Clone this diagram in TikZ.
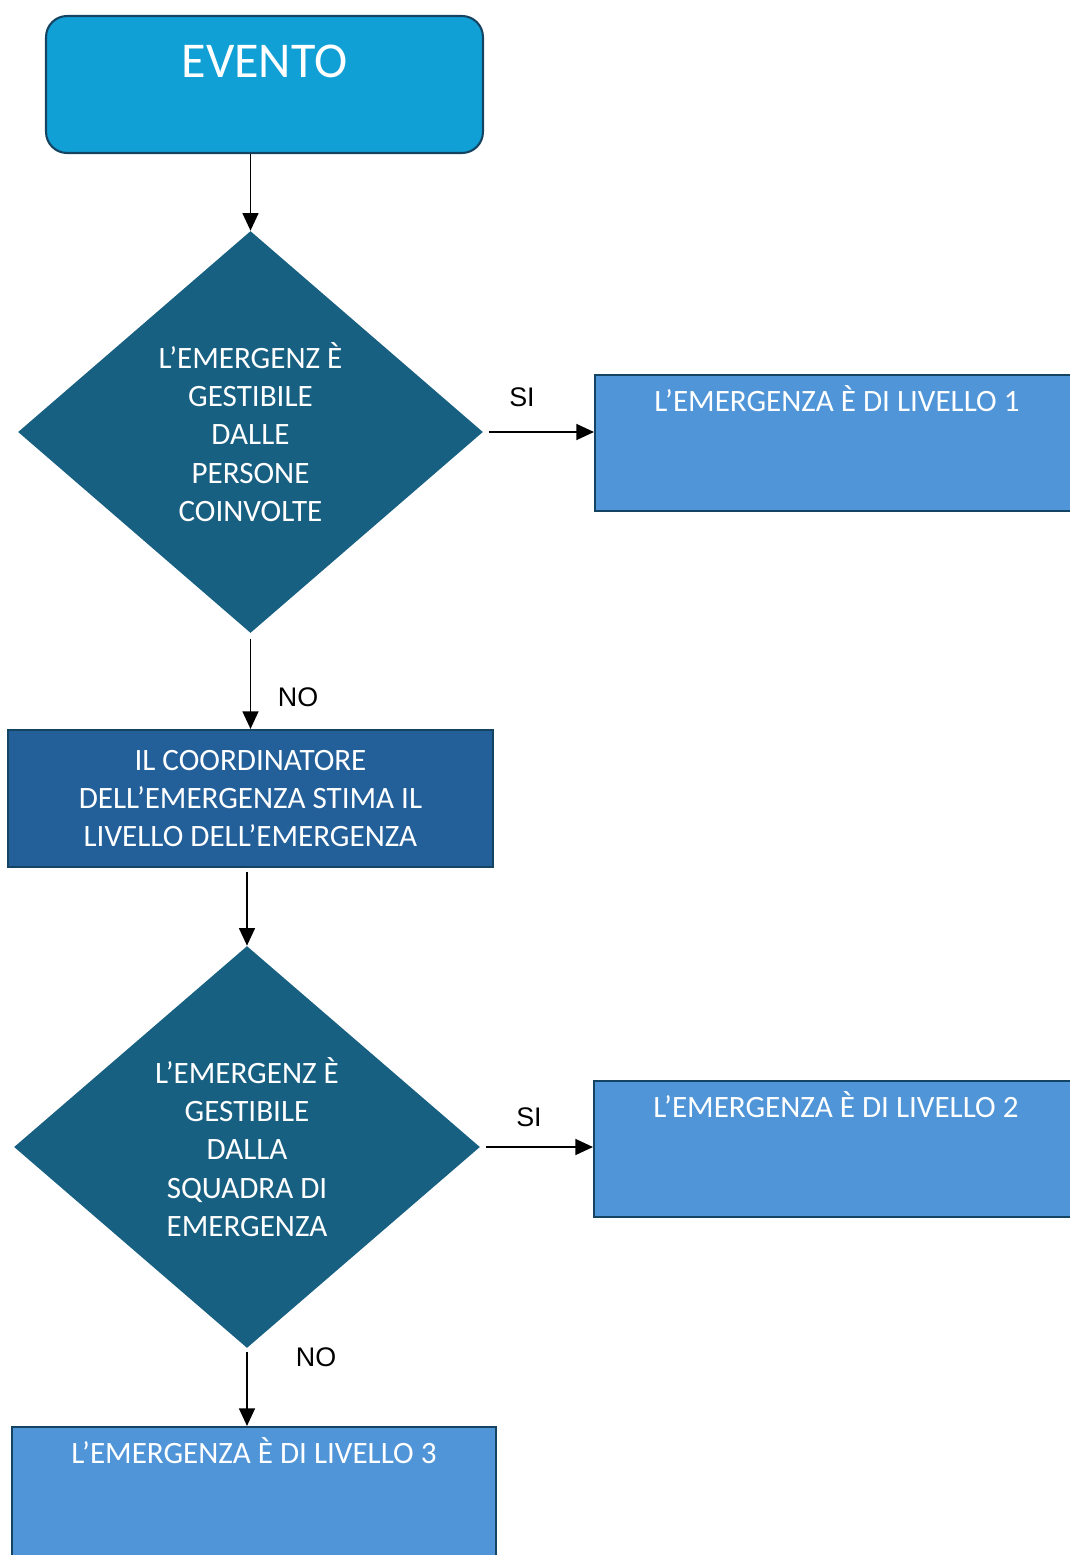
\documentclass[tikz,border=0pt]{standalone}
\usepackage{fontspec}
\setmainfont{Carlito}
\newfontfamily\lblfont{Liberation Sans}
\usetikzlibrary{shapes.geometric,
                calc, %for border points
                arrows.meta, % for triangle tips
                positioning}

\definecolor{eventoblu}{RGB}{17,160,214}
\definecolor{rombo}{RGB}{24,96,130}
\definecolor{coordblu}{RGB}{35,96,154}
\definecolor{livello}{RGB}{80,149,216}
\definecolor{bordo}{RGB}{21,68,98}

\begin{document}
\begin{tikzpicture}[x=0.02cm, y=-0.02cm,
                    Evento/.style={draw=bordo, line width=1.2pt, fill=eventoblu, rounded corners=0.42cm,
                                   minimum width=8.74cm, minimum height=2.74cm},
                    Domanda/.style={diamond, fill=rombo, inner sep=0pt, text=white, align=center,
                                    minimum width=9.3cm, minimum height=8.04cm,
                                    font=\fontsize{17.7}{21.8}\selectfont},
                    Stima/.style={draw=bordo, line width=1.2pt, fill=coordblu, text=white, align=center,
                                  minimum width=9.7cm, minimum height=2.74cm,
                                  font=\fontsize{17.7}{21.6}\selectfont},
                    Livello/.style={draw=bordo, line width=1.2pt, fill=livello,
                                    minimum width=9.68cm, minimum height=2.72cm},
                    Titolo/.style={text=white, anchor=base, inner sep=0pt, font=\fontsize{17.7}{21}\selectfont},
                    Risposta/.style={font=\lblfont\fontsize{15.3}{18}\selectfont, inner sep=0pt},
                    flow/.style={-{Triangle[length=10pt,width=9pt]}, line width=1.1pt}
                    ]
    \useasboundingbox (0,0) rectangle (1069,1555);

    % START %
    \node[Evento, label={[Titolo, font=\fontsize{28.5}{34}\selectfont, yshift=-1.26cm]north:EVENTO}]
        at (264.5,84.5) (evento){};

    % FIRST QUESTION %
    \node[Domanda] at (250.5,432) (d1)
        {L’EMERGENZ È\\GESTIBILE\\DALLE\\PERSONE\\COINVOLTE};
    \node[Livello, label={[Titolo, yshift=-0.76cm]north:L’EMERGENZA È DI LIVELLO 1}]
        at (837,443) (l1){};
    \node[Stima] at (250.5,798.5) (coord)
        {IL COORDINATORE\\DELL’EMERGENZA STIMA IL\\LIVELLO DELL’EMERGENZA};

    % SECOND QUESTION %
    \node[Domanda, minimum width=9.32cm] at (247,1147) (d2)
        {L’EMERGENZ È\\GESTIBILE\\DALLA\\SQUADRA DI\\EMERGENZA};
    \node[Livello, label={[Titolo, yshift=-0.76cm]north:L’EMERGENZA È DI LIVELLO 2}]
        at (836,1149) (l2){};
    \node[Livello, label={[Titolo, yshift=-0.76cm]north:L’EMERGENZA È DI LIVELLO 3}]
        at (254,1495) (l3){};

    % ANSWERS %
    \node[Risposta] at (522,397) (si1){SI};
    \node[Risposta] at (298,697) (no1){NO};
    \node[Risposta] at (529,1117) (si2){SI};
    \node[Risposta] at (316,1357) (no2){NO};

    % ARROWS %
    \draw[flow] (evento.south -| d1.north) -- (d1.north);
    \draw[flow, shorten <=3pt] (d1.east) -- (d1.east -| l1.west);
    \draw[flow, shorten <=3pt] (d1.south) -- (d1.south |- coord.north);
    \draw[flow, shorten <=2pt] (coord.south -| d2.north) -- (d2.north);
    \draw[flow, shorten <=3pt] (d2.east) -- (d2.east -| l2.west);
    \draw[flow, shorten <=2pt] (d2.south) -- (d2.south |- l3.north);

\end{tikzpicture}
\end{document}
